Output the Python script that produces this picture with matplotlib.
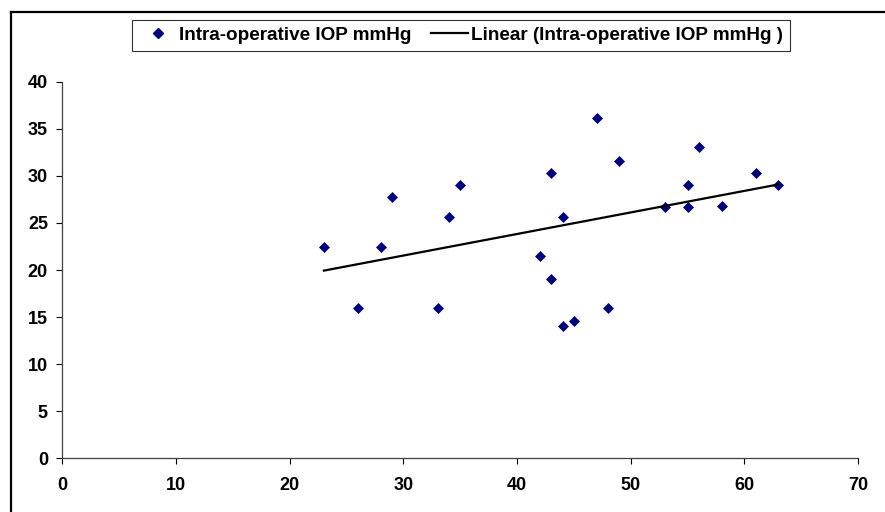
import matplotlib
matplotlib.use('Agg')
import matplotlib.pyplot as plt
import numpy as np
from matplotlib.lines import Line2D

# scatter data
age = [23, 26, 28, 29, 33, 34, 35, 42, 43, 43, 44, 44, 45, 47, 48, 49,
       53, 55, 55, 56, 58, 61, 63]
iop = [22.4, 16.0, 22.4, 27.8, 16.0, 25.6, 29.0, 21.5, 30.3, 19.0, 25.6, 14.0, 14.6, 36.1, 16.0, 31.6,
       26.7, 29.0, 26.7, 33.1, 26.8, 30.3, 29.0]

x_ticks = [0, 10, 20, 30, 40, 50, 60, 70]
y_ticks = [0, 5, 10, 15, 20, 25, 30, 35, 40]

series_label = 'Intra-operative IOP mmHg'
trend_label = 'Linear (Intra-operative IOP mmHg )'

plt.rcParams['font.family'] = ['Liberation Sans', 'DejaVu Sans']
plt.rcParams['font.weight'] = 'bold'

fig = plt.figure(figsize=(8.85, 5.12), dpi=100)
ax = fig.add_axes([0.0706, 0.1049, 0.8989, 0.7355])

ax.plot(age, iop, linestyle='none', marker='D', markersize=5.2,
        color='#000080', markeredgewidth=0.5)

# linear trendline
slope, intercept = np.polyfit(age, iop, 1)
xs = np.array([min(age), max(age)])
ax.plot(xs, slope * xs + intercept, color='black', linewidth=1.6)

ax.set_xlim(0, 70)
ax.set_ylim(0, 40)
ax.set_xticks(x_ticks)
ax.set_yticks(y_ticks)
ax.tick_params(direction='out', length=4.5, width=0.8, labelsize=13, colors='black')
ax.tick_params(axis='x', pad=9)
ax.tick_params(axis='y', pad=6)
for lab in ax.get_xticklabels() + ax.get_yticklabels():
    lab.set_fontweight('bold')

for s in ['top', 'right']:
    ax.spines[s].set_visible(False)
for s in ['left', 'bottom']:
    ax.spines[s].set_color('#404040')
    ax.spines[s].set_linewidth(0.9)

handles = [
    Line2D([], [], linestyle='none', marker='D', markersize=5.2, color='#000080'),
    Line2D([], [], color='black', linewidth=1.6),
]
leg = fig.legend(handles, [series_label, trend_label], loc='center',
                 bbox_to_anchor=(0.521, 0.931), ncol=2, frameon=True, fancybox=False,
                 prop={'size': 13.6, 'weight': 'bold'}, handlelength=2.0, columnspacing=1.0,
                 handletextpad=0.15, borderpad=0.35)
leg.get_frame().set_edgecolor('black')
leg.get_frame().set_linewidth(0.8)

# outer chart border (left and top visible)
fig.add_artist(Line2D([11 / 885, 11 / 885], [0, 1 - 12 / 512], color='black', linewidth=1.6,
                      transform=fig.transFigure))
fig.add_artist(Line2D([11 / 885, 1], [1 - 12 / 512, 1 - 12 / 512], color='black', linewidth=1.6,
                      transform=fig.transFigure))

fig.savefig('out.png', dpi=100)
